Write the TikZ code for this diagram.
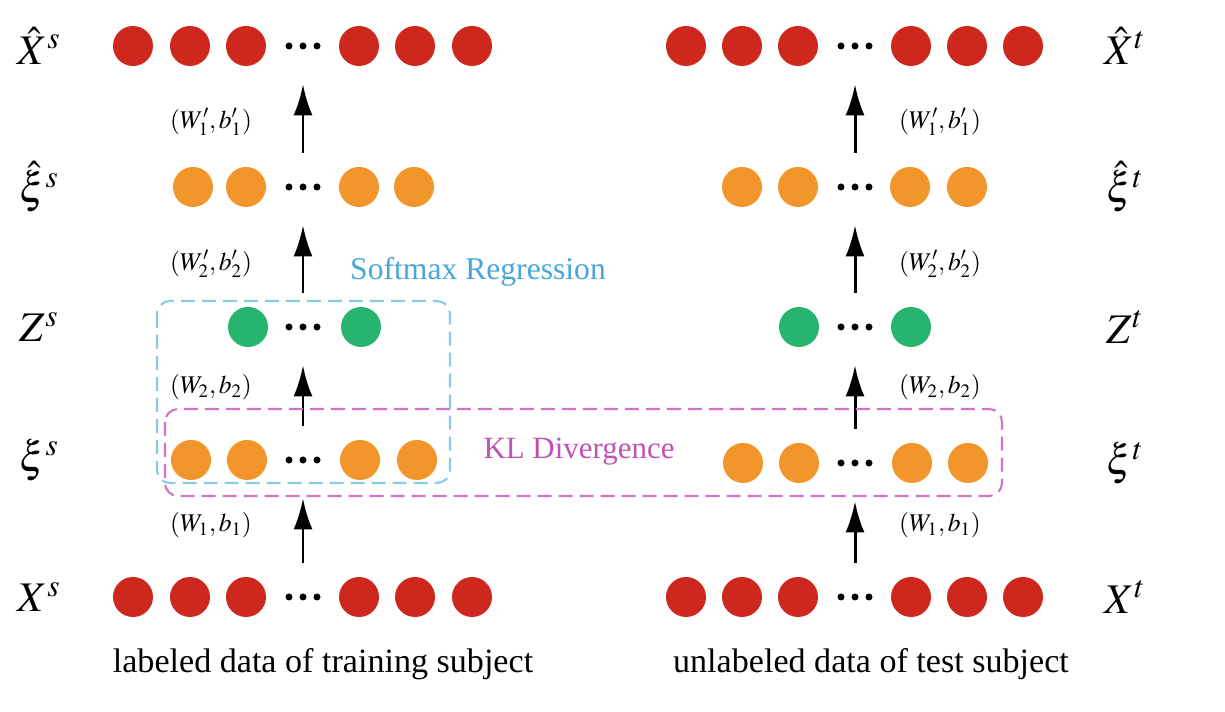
\documentclass[tikz,border=0pt]{standalone}
\usepackage{mathptmx}
\usepackage{fontspec}
\setmainfont{Liberation Serif}
\usepackage{tikz}
\usetikzlibrary{arrows.meta}
\definecolor{unitred}{RGB}{206,40,30}
\definecolor{unitorange}{RGB}{242,149,42}
\definecolor{unitgreen}{RGB}{38,180,110}
\definecolor{softblue}{RGB}{140,203,232}
\definecolor{softtext}{RGB}{72,166,216}
\definecolor{klpink}{RGB}{210,115,200}
\definecolor{kltext}{RGB}{192,82,182}

\begin{document}
\begin{tikzpicture}[
unit/.style={circle,inner sep=0pt,minimum size=0.8cm},
redunit/.style={unit,fill=unitred},
orangeunit/.style={unit,fill=unitorange},
greenunit/.style={unit,fill=unitgreen},
dotsnode/.style={inner sep=0pt,minimum size=0.8cm,
  path picture={\fill (path picture bounding box.center) circle (0.07) ++(-0.28,0) circle (0.07) ++(0.56,0) circle (0.07);}},
uparrow/.style={-{Latex[length=0.62cm,width=0.38cm]},line width=1.7pt,shorten <=0.28cm,shorten >=0.36cm},
layer/.style={font=\fontsize{24}{28}\selectfont},
param/.style={font=\fontsize{14.5}{17}\selectfont},
caption/.style={font=\fontsize{19.4}{23}\selectfont}
]
\useasboundingbox (0,0) rectangle (24.5,-14.24);

% training subject (left)
\path (2.66,-0.92) node[redunit] (xhs1) {} (3.80,-0.92) node[redunit] (xhs2) {} (4.92,-0.92) node[redunit] (xhs3) {} (6.06,-0.92) node[dotsnode] (xhsd) {} (7.18,-0.92) node[redunit] (xhs4) {} (8.30,-0.92) node[redunit] (xhs5) {} (9.44,-0.92) node[redunit] (xhs6) {};
\path (3.86,-3.74) node[orangeunit] (ehs1) {} (4.92,-3.74) node[orangeunit] (ehs2) {} (6.06,-3.74) node[dotsnode] (ehsd) {} (7.18,-3.74) node[orangeunit] (ehs3) {} (8.28,-3.74) node[orangeunit] (ehs4) {};
\path (4.96,-6.54) node[greenunit] (zs1) {} (6.06,-6.54) node[dotsnode] (zsd) {} (7.22,-6.54) node[greenunit] (zs2) {};
\path (3.82,-9.20) node[orangeunit] (es1) {} (4.94,-9.20) node[orangeunit] (es2) {} (6.06,-9.20) node[dotsnode] (esd) {} (7.20,-9.20) node[orangeunit] (es3) {} (8.34,-9.20) node[orangeunit] (es4) {};
\path (2.66,-11.94) node[redunit] (xs1) {} (3.80,-11.94) node[redunit] (xs2) {} (4.92,-11.94) node[redunit] (xs3) {} (6.06,-11.94) node[dotsnode] (xsd) {} (7.18,-11.94) node[redunit] (xs4) {} (8.30,-11.94) node[redunit] (xs5) {} (9.44,-11.94) node[redunit] (xs6) {};

% test subject (right)
\path (13.72,-0.92) node[redunit] (xht1) {} (14.84,-0.92) node[redunit] (xht2) {} (15.96,-0.92) node[redunit] (xht3) {} (17.10,-0.92) node[dotsnode] (xhtd) {} (18.22,-0.92) node[redunit] (xht4) {} (19.34,-0.92) node[redunit] (xht5) {} (20.46,-0.92) node[redunit] (xht6) {};
\path (14.84,-3.74) node[orangeunit] (eht1) {} (15.96,-3.74) node[orangeunit] (eht2) {} (17.10,-3.74) node[dotsnode] (ehtd) {} (18.20,-3.74) node[orangeunit] (eht3) {} (19.34,-3.74) node[orangeunit] (eht4) {};
\path (15.98,-6.54) node[greenunit] (zt1) {} (17.10,-6.54) node[dotsnode] (ztd) {} (18.22,-6.54) node[greenunit] (zt2) {};
\path (14.86,-9.26) node[orangeunit] (et1) {} (15.98,-9.26) node[orangeunit] (et2) {} (17.10,-9.26) node[dotsnode] (etd) {} (18.24,-9.26) node[orangeunit] (et3) {} (19.36,-9.26) node[orangeunit] (et4) {};
\path (13.72,-11.94) node[redunit] (xt1) {} (14.84,-11.94) node[redunit] (xt2) {} (15.96,-11.94) node[redunit] (xt3) {} (17.10,-11.94) node[dotsnode] (xtd) {} (18.22,-11.94) node[redunit] (xt4) {} (19.34,-11.94) node[redunit] (xt5) {} (20.46,-11.94) node[redunit] (xt6) {};

\draw[uparrow] (xsd) -- (esd);
\draw[uparrow] (esd) -- (zsd);
\draw[uparrow] (zsd) -- (ehsd);
\draw[uparrow] (ehsd) -- (xhsd);
\draw[uparrow] (xtd) -- (etd);
\draw[uparrow] (etd) -- (ztd);
\draw[uparrow] (ztd) -- (ehtd);
\draw[uparrow] (ehtd) -- (xhtd);

% layer names
\node[layer] (lxhs) at (0.78,-0.92) {$\hat{X}^{s}$};
\node[layer] (lehs) at (0.78,-3.74) {$\hat{\xi}^{s}$};
\node[layer] (lzs) at (0.78,-6.54) {$Z^{s}$};
\node[layer] (les) at (0.78,-9.20) {$\xi^{s}$};
\node[layer] (lxs) at (0.78,-11.94) {$X^{s}$};
\node[layer] (lxht) at (22.50,-0.92) {$\hat{X}^{t}$};
\node[layer] (leht) at (22.50,-3.74) {$\hat{\xi}^{t}$};
\node[layer] (lzt) at (22.50,-6.54) {$Z^{t}$};
\node[layer] (let) at (22.50,-9.26) {$\xi^{t}$};
\node[layer] (lxt) at (22.50,-11.94) {$X^{t}$};

% weights
\node[param] (ws1p) at (4.22,-2.44) {$(W_1',b_1')$};
\node[param] (ws2p) at (4.22,-5.28) {$(W_2',b_2')$};
\node[param] (ws2) at (4.22,-7.74) {$(W_2,b_2)$};
\node[param] (ws1) at (4.22,-10.50) {$(W_1,b_1)$};
\node[param] (wt1p) at (18.80,-2.44) {$(W_1',b_1')$};
\node[param] (wt2p) at (18.80,-5.28) {$(W_2',b_2')$};
\node[param] (wt2) at (18.80,-7.74) {$(W_2,b_2)$};
\node[param] (wt1) at (18.80,-10.50) {$(W_1,b_1)$};

% boxes
\draw[softblue,line width=1.2pt,dash pattern=on 0.28cm off 0.14cm,rounded corners=0.26cm] (3.14,-6.02) rectangle (9.00,-9.66);
\draw[klpink,line width=1.2pt,dash pattern=on 0.28cm off 0.14cm,rounded corners=0.26cm] (3.30,-8.18) rectangle (20.04,-9.92);
\node[softtext,font=\fontsize{18}{21}\selectfont] (softmax) at (9.56,-5.44) {Softmax Regression};
\node[kltext,font=\fontsize{17.6}{21}\selectfont] (kl) at (11.58,-9.04) {KL Divergence};

\node[caption] (caps) at (6.46,-13.28) {labeled data of training subject};
\node[caption] (capt) at (17.42,-13.28) {unlabeled data of test subject};
\end{tikzpicture}
\end{document}
